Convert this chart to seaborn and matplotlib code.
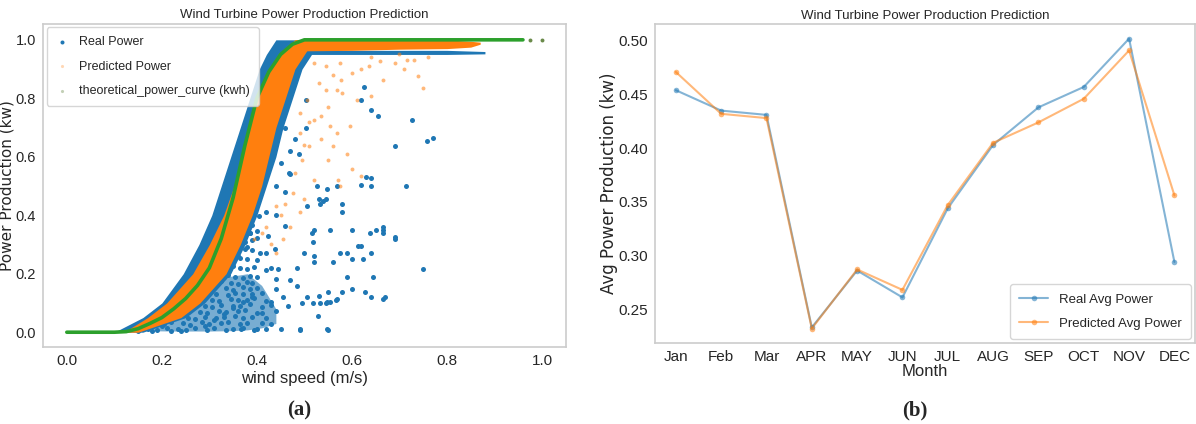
import matplotlib
matplotlib.use("Agg")
import matplotlib.pyplot as plt
import seaborn as sns

# ---- panel (a): power curve ----
# dense bands (speed edges at given power levels)
power_levels = [0.0, 0.05, 0.1, 0.2, 0.3, 0.4, 0.5, 0.6, 0.7, 0.8, 0.9, 0.95, 1.0]
real_band_left = [0.10, 0.16, 0.20, 0.245, 0.278, 0.305, 0.325, 0.345, 0.365, 0.385, 0.405, 0.42, 0.44]
real_band_right = [0.16, 0.25, 0.29, 0.345, 0.375, 0.40, 0.42, 0.44, 0.455, 0.475, 0.495, 0.515, 0.52]
pred_band_left = [0.12, 0.17, 0.21, 0.265, 0.30, 0.33, 0.352, 0.37, 0.385, 0.40, 0.425, 0.445, 0.48]
pred_band_right = [0.15, 0.24, 0.28, 0.335, 0.365, 0.39, 0.41, 0.425, 0.44, 0.46, 0.48, 0.50, 0.52]

# faint dense part of the low-power real cloud
cloud_speed = [0.18, 0.22, 0.26, 0.30, 0.34, 0.38, 0.41, 0.44]
cloud_low = [0.005, 0.004, 0.004, 0.004, 0.005, 0.008, 0.015, 0.03]
cloud_high = [0.03, 0.07, 0.11, 0.15, 0.19, 0.20, 0.16, 0.08]

# flat top of the curve
real_top_speed = [0.47, 0.60, 0.70, 0.80, 0.88]
real_top_low = [0.950, 0.950, 0.950, 0.950, 0.952]
real_top_high = [0.964, 0.964, 0.964, 0.964, 0.960]
pred_top_speed = [0.48, 0.60, 0.70, 0.80, 0.85, 0.87]
pred_top_low = [0.962, 0.964, 0.968, 0.970, 0.975, 0.985]
pred_top_high = [1.0, 1.0, 1.0, 1.0, 0.995, 0.992]

# scattered real power points
real_x = [0.17, 0.19, 0.21, 0.235, 0.25, 0.27, 0.295, 0.31, 0.335, 0.35, 0.37, 0.395, 0.40,
          0.18, 0.205, 0.22, 0.245, 0.26, 0.285, 0.30, 0.325, 0.34, 0.365, 0.38, 0.41, 0.43,
          0.20, 0.225, 0.235, 0.255, 0.27, 0.29, 0.315, 0.33, 0.355, 0.37, 0.39, 0.42,
          0.21, 0.23, 0.255, 0.28, 0.295, 0.32, 0.335, 0.36, 0.375, 0.40, 0.44,
          0.22, 0.245, 0.265, 0.29, 0.305, 0.325, 0.35, 0.365, 0.385, 0.41, 0.43,
          0.235, 0.26, 0.28, 0.305, 0.32, 0.345, 0.36, 0.38, 0.395, 0.42,
          0.25, 0.275, 0.295, 0.315, 0.34, 0.355, 0.37, 0.39, 0.41,
          0.27, 0.29, 0.31, 0.335, 0.35, 0.37, 0.385, 0.40,
          0.285, 0.305, 0.325, 0.345, 0.36, 0.38, 0.39,
          0.30, 0.32, 0.34, 0.355, 0.37, 0.385, 0.40,
          0.32, 0.335, 0.35, 0.365, 0.38, 0.395,
          0.335, 0.35, 0.365, 0.38, 0.40,
          0.345, 0.36, 0.375, 0.39, 0.36, 0.375, 0.39, 0.37, 0.385, 0.40, 0.375, 0.39, 0.39, 0.405,
          0.726, 0.770, 0.758, 0.714, 0.69, 0.69, 0.75, 0.665, 0.65, 0.665, 0.641, 0.654, 0.64,
          0.626, 0.62, 0.64, 0.62, 0.627, 0.60, 0.59, 0.60, 0.545, 0.568, 0.55, 0.53, 0.545,
          0.52, 0.50, 0.49, 0.47, 0.45, 0.44, 0.488, 0.48, 0.46, 0.503, 0.503, 0.468, 0.44,
          0.42, 0.41, 0.39, 0.385, 0.42, 0.46, 0.568, 0.56, 0.52, 0.367, 0.42, 0.64, 0.60,
          0.496, 0.53, 0.55, 0.69, 0.665, 0.665, 0.638, 0.67, 0.64, 0.613, 0.623, 0.645, 0.58,
          0.566, 0.554, 0.547, 0.533, 0.518, 0.505, 0.528, 0.547, 0.49, 0.465, 0.47, 0.58,
          0.58, 0.59, 0.575, 0.52, 0.484, 0.484, 0.438, 0.444, 0.423, 0.406, 0.554, 0.515,
          0.518, 0.505, 0.533, 0.54, 0.547, 0.526, 0.63, 0.62, 0.45, 0.43, 0.46, 0.47, 0.44,
          0.26, 0.28, 0.30, 0.32, 0.34, 0.36, 0.38, 0.40, 0.42, 0.44, 0.455,
          0.29, 0.31, 0.33, 0.35, 0.37, 0.39, 0.41, 0.43,
          0.15, 0.16, 0.18, 0.20, 0.22, 0.24]
real_y = [0.012, 0.008, 0.015, 0.010, 0.006, 0.013, 0.009, 0.014, 0.007, 0.011, 0.016, 0.008, 0.012,
          0.032, 0.028, 0.035, 0.030, 0.026, 0.034, 0.029, 0.031, 0.036, 0.027, 0.033, 0.030, 0.028,
          0.052, 0.048, 0.055, 0.050, 0.046, 0.053, 0.049, 0.051, 0.056, 0.047, 0.053, 0.050,
          0.072, 0.068, 0.075, 0.070, 0.066, 0.073, 0.069, 0.071, 0.076, 0.067, 0.072,
          0.092, 0.088, 0.095, 0.090, 0.086, 0.093, 0.089, 0.091, 0.096, 0.087, 0.092,
          0.112, 0.108, 0.115, 0.110, 0.106, 0.113, 0.109, 0.111, 0.116, 0.108,
          0.132, 0.128, 0.135, 0.130, 0.126, 0.133, 0.129, 0.131, 0.135,
          0.152, 0.148, 0.155, 0.150, 0.146, 0.153, 0.149, 0.151,
          0.172, 0.168, 0.175, 0.170, 0.166, 0.173, 0.169,
          0.192, 0.188, 0.195, 0.190, 0.186, 0.193, 0.189,
          0.222, 0.218, 0.225, 0.220, 0.216, 0.223,
          0.252, 0.248, 0.255, 0.250, 0.246,
          0.282, 0.278, 0.285, 0.280, 0.312, 0.308, 0.315, 0.342, 0.338, 0.345, 0.372, 0.368, 0.402, 0.398,
          0.727, 0.665, 0.653, 0.50, 0.324, 0.636, 0.216, 0.114, 0.35, 0.35, 0.528, 0.739, 0.76,
          0.84, 0.795, 0.27, 0.295, 0.136, 0.35, 0.19, 0.148, 0.10, 0.114, 0.006, 0.455, 0.455,
          0.35, 0.27, 0.006, 0.18, 0.01, 0.148, 0.61, 0.66, 0.70, 0.70, 0.795, 0.545, 0.50,
          0.41, 0.61, 0.455, 0.34, 0.27, 0.364, 0.50, 0.24, 0.24, 0.01, 0.01, 0.50, 0.25,
          0.10, 0.125, 0.136, 0.32, 0.36, 0.34, 0.34, 0.12, 0.12, 0.294, 0.25, 0.19, 0.136,
          0.11, 0.105, 0.105, 0.10, 0.10, 0.12, 0.055, 0.01, 0.01, 0.09, 0.54, 0.41,
          0.44, 0.27, 0.27, 0.26, 0.22, 0.157, 0.283, 0.215, 0.33, 0.27, 0.35, 0.34,
          0.31, 0.43, 0.437, 0.45, 0.49, 0.50, 0.53, 0.505, 0.58, 0.22, 0.48, 0.62, 0.40,
          0.142, 0.162, 0.182, 0.202, 0.232, 0.262, 0.292, 0.322, 0.212, 0.182, 0.122,
          0.021, 0.043, 0.062, 0.083, 0.102, 0.121, 0.064, 0.102,
          0.004, 0.022, 0.004, 0.022, 0.003, 0.003]

# scattered predicted power points
pred_x = [0.66, 0.69, 0.71, 0.74, 0.75, 0.665, 0.637, 0.62, 0.60, 0.577, 0.546, 0.568, 0.58,
          0.61, 0.64, 0.55, 0.535, 0.553, 0.568, 0.595, 0.535, 0.56, 0.59, 0.55, 0.57, 0.60,
          0.62, 0.575, 0.52, 0.50, 0.49, 0.47, 0.455, 0.44, 0.475, 0.44, 0.42, 0.41, 0.395,
          0.48, 0.495, 0.51, 0.49, 0.52, 0.49, 0.505, 0.53, 0.546, 0.575, 0.717, 0.76, 0.52,
          0.43, 0.45, 0.46, 0.50, 0.51, 0.56, 0.64, 0.70, 0.73]
pred_y = [0.926, 0.92, 0.90, 0.875, 0.835, 0.864, 0.91, 0.90, 0.886, 0.864, 0.83, 0.83, 0.818,
          0.795, 0.807, 0.77, 0.74, 0.705, 0.68, 0.705, 0.66, 0.636, 0.61, 0.59, 0.52, 0.557,
          0.534, 0.50, 0.52, 0.455, 0.41, 0.36, 0.32, 0.27, 0.477, 0.43, 0.36, 0.34, 0.32,
          0.545, 0.59, 0.636, 0.68, 0.727, 0.75, 0.795, 0.852, 0.91, 0.92, 0.93, 0.94, 0.92,
          0.30, 0.40, 0.44, 0.64, 0.72, 0.88, 0.94, 0.95, 0.93]

# theoretical power curve
theo_speed = [0.0, 0.05, 0.10, 0.125, 0.15, 0.175, 0.20, 0.225, 0.25, 0.275, 0.30, 0.325,
              0.35, 0.375, 0.40, 0.425, 0.45, 0.475, 0.50, 0.60, 0.70, 0.80, 0.90, 0.96]
theo_power = [0.0, 0.0, 0.0, 0.002, 0.012, 0.03, 0.05, 0.08, 0.115, 0.16, 0.22, 0.32,
              0.46, 0.64, 0.80, 0.89, 0.95, 0.985, 1.0, 1.0, 1.0, 1.0, 1.0, 1.0]
theo_tail_speed = [0.975, 1.0]
theo_tail_power = [1.0, 1.0]

# ---- panel (b): monthly averages ----
months = ["Jan", "Feb", "Mar", "APR", "MAY", "JUN", "JUL", "AUG", "SEP", "OCT", "NOV", "DEC"]
real_avg = [0.454, 0.435, 0.431, 0.233, 0.286, 0.261, 0.344, 0.403, 0.438, 0.457, 0.502, 0.294]
pred_avg = [0.471, 0.432, 0.428, 0.232, 0.287, 0.268, 0.347, 0.405, 0.424, 0.446, 0.491, 0.356]

blue, orange, green = "#1f77b4", "#ff7f0e", "#2ca02c"

sns.set_style("white")
plt.rcParams["font.family"] = ["Liberation Sans", "DejaVu Sans"]

fig = plt.figure(figsize=(11.96, 4.24), dpi=100)
ax1 = fig.add_axes([0.036, 0.182, 0.437, 0.762])
ax2 = fig.add_axes([0.548, 0.191, 0.451, 0.752])

# --- (a) ---
ax1.fill_between(cloud_speed, cloud_low, cloud_high, color=blue, alpha=0.6, lw=0)
ax1.fill_betweenx(power_levels, real_band_left, real_band_right, color=blue, lw=0)
ax1.fill_between(real_top_speed, real_top_low, real_top_high, color=blue, lw=0)
sns.scatterplot(x=real_x, y=real_y, color=blue, s=13, linewidth=0, ax=ax1, label="Real Power")
ax1.fill_betweenx(power_levels, pred_band_left, pred_band_right, color=orange, lw=0)
ax1.fill_between(pred_top_speed, pred_top_low, pred_top_high, color=orange, lw=0)
sns.scatterplot(x=pred_x, y=pred_y, color=orange, s=8, alpha=0.55, linewidth=0, ax=ax1,
                label="Predicted Power")
sns.lineplot(x=theo_speed, y=theo_power, color=green, lw=2.6, ax=ax1)
sns.scatterplot(x=theo_tail_speed, y=theo_tail_power, color="#6a8a4a", s=8, linewidth=0,
                ax=ax1, label="theoretical_power_curve (kwh)")

ax1.set_xlim(-0.05, 1.05)
ax1.set_ylim(-0.05, 1.055)
ax1.set_xticks([0.0, 0.2, 0.4, 0.6, 0.8, 1.0])
ax1.set_yticks([0.0, 0.2, 0.4, 0.6, 0.8, 1.0])
ax1.set_title("Wind Turbine Power Production Prediction", fontsize=9.5, pad=4)
ax1.set_xlabel("wind speed (m/s)", fontsize=12, labelpad=2)
ax1.set_ylabel("Power Production (kw)", fontsize=11, family="DejaVu Sans")
ax1.yaxis.set_label_coords(-0.054, 0.5)
leg1 = ax1.legend(loc="upper left", fontsize=9, markerscale=0.8, handlelength=1.0,
                  handletextpad=0.9, borderaxespad=0.3, labelspacing=1.0, borderpad=0.7)
leg1.legend_handles[1].set_alpha(0.3)
leg1.legend_handles[2].set_alpha(0.4)

# --- (b) ---
sns.lineplot(x=months, y=real_avg, color=blue, marker="o", markersize=4, lw=1.5, alpha=0.55,
             markeredgewidth=0, sort=False, ax=ax2, label="Real Avg Power")
sns.lineplot(x=months, y=pred_avg, color=orange, marker="o", markersize=4, lw=1.5, alpha=0.55,
             markeredgewidth=0, sort=False, ax=ax2, label="Predicted Avg Power")
ax2.set_yticks([0.25, 0.30, 0.35, 0.40, 0.45, 0.50])
ax2.set_xlim(-0.45, 11.45)
ax2.set_title("Wind Turbine Power Production Prediction", fontsize=9.5, pad=4)
ax2.set_xlabel("Month", fontsize=12, labelpad=0)
ax2.set_ylabel("Avg Power Production (kw)", fontsize=12, family="DejaVu Sans")
ax2.yaxis.set_label_coords(-0.07, 0.5)
ax2.legend(loc="lower right", fontsize=9.5, handlelength=2.2, borderaxespad=0.3,
           labelspacing=0.9, borderpad=0.7)

for ax in (ax1, ax2):
    ax.tick_params(axis="both", labelsize=11, length=3, color="#bbbbbb", pad=2)
    for sp in ax.spines.values():
        sp.set_color("#cccccc")
        sp.set_linewidth(1.2)
ax1.tick_params(axis="y", labelsize=10.5)

fig.text(0.25, 0.02, "(a)", fontsize=15, fontweight="bold", family="Liberation Serif", ha="center")
fig.text(0.765, 0.02, "(b)", fontsize=15, fontweight="bold", family="Liberation Serif", ha="center")

fig.savefig("out.png", dpi=100)
